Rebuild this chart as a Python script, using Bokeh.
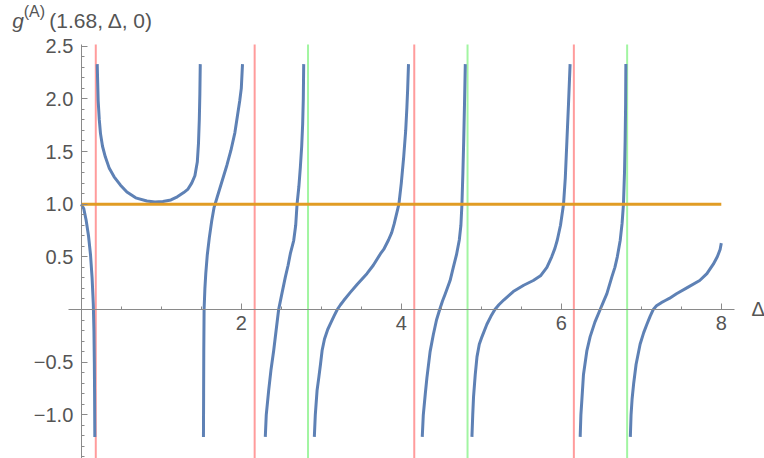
from bokeh.plotting import figure
from bokeh.models import Range1d, FixedTicker, CustomJSTickFormatter, Label
from bokeh.embed import file_html
from bokeh.resources import INLINE

# ---- data (Delta, g) ----
b1_d = [0.0, 0.03, 0.06, 0.09, 0.115, 0.135, 0.15, 0.158, 0.163, 0.166, 0.169]
b1_g = [1.00, 0.96, 0.85, 0.70, 0.52, 0.30, 0.05, -0.20, -0.50, -0.80, -1.21]

b2_d = [0.199, 0.205, 0.211, 0.225, 0.24, 0.265, 0.30, 0.35, 0.41, 0.49, 0.57, 0.68,
        0.82, 0.92, 1.02, 1.12, 1.20, 1.28, 1.33, 1.38, 1.42, 1.45, 1.465, 1.475,
        1.482, 1.487]
b2_g = [2.33, 2.15, 1.98, 1.80, 1.67, 1.55, 1.45, 1.34, 1.26, 1.18, 1.115, 1.06,
        1.03, 1.02, 1.025, 1.04, 1.07, 1.11, 1.14, 1.20, 1.27, 1.40, 1.58, 1.80,
        2.05, 2.33]

b3_d = [1.527, 1.529, 1.531, 1.535, 1.545, 1.556, 1.575, 1.60, 1.63, 1.66, 1.70,
        1.76, 1.82, 1.87, 1.92, 1.95, 1.98, 2.00, 2.015]
b3_g = [-1.21, -0.80, -0.40, 0.00, 0.20, 0.34, 0.52, 0.68, 0.84, 0.97, 1.07,
        1.22, 1.37, 1.51, 1.68, 1.83, 1.98, 2.10, 2.33]

b4_d = [2.300, 2.312, 2.342, 2.37, 2.405, 2.435, 2.467, 2.51, 2.551, 2.585, 2.613,
        2.655, 2.68, 2.697, 2.72, 2.738, 2.755, 2.767, 2.775, 2.78]
b4_g = [-1.21, -1.00, -0.77, -0.58, -0.39, -0.20, 0.00, 0.16, 0.31, 0.42, 0.53,
        0.655, 0.80, 1.00, 1.17, 1.35, 1.55, 1.76, 2.00, 2.33]

b5_d = [2.913, 2.925, 2.947, 2.97, 2.99, 3.01, 3.04, 3.08, 3.12, 3.16, 3.20, 3.24,
        3.28, 3.36, 3.45, 3.57, 3.65, 3.74, 3.78, 3.84, 3.88, 3.91, 3.97, 4.00, 4.03,
        4.055, 4.07, 4.08, 4.09]
b5_g = [-1.21, -1.00, -0.77, -0.64, -0.52, -0.39, -0.28, -0.19, -0.125, -0.06, 0.00,
        0.045, 0.085, 0.16, 0.24, 0.34, 0.42, 0.53, 0.57, 0.66, 0.73, 0.81, 1.00, 1.20,
        1.45, 1.70, 1.92, 2.10, 2.33]

b6_d = [4.262, 4.275, 4.30, 4.32, 4.36, 4.40, 4.44, 4.48, 4.515, 4.55, 4.61, 4.65,
        4.69, 4.725, 4.745, 4.758, 4.77, 4.78, 4.79, 4.80]
b6_g = [-1.21, -1.00, -0.80, -0.65, -0.40, -0.24, -0.10, 0.00, 0.08, 0.15, 0.275,
        0.40, 0.52, 0.66, 0.80, 1.00, 1.30, 1.60, 1.95, 2.33]

b7_d = [4.883, 4.893, 4.903, 4.924, 4.946, 4.975, 5.008, 5.07, 5.12, 5.17, 5.22,
        5.28, 5.40, 5.53, 5.65, 5.74, 5.82, 5.88, 5.92, 5.95, 5.99, 6.028, 6.05,
        6.07, 6.09, 6.11]
b7_g = [-1.21, -1.00, -0.83, -0.62, -0.45, -0.33, -0.26, -0.14, -0.065, 0.00, 0.045,
        0.09, 0.17, 0.23, 0.275, 0.32, 0.40, 0.50, 0.58, 0.66, 0.80, 1.00, 1.25,
        1.60, 1.95, 2.33]

b8_d = [6.236, 6.245, 6.257, 6.277, 6.32, 6.36, 6.42, 6.486, 6.53, 6.57, 6.632,
        6.67, 6.70, 6.736, 6.76, 6.777, 6.79, 6.798, 6.804, 6.807]
b8_g = [-1.21, -1.00, -0.86, -0.62, -0.39, -0.26, -0.12, 0.00, 0.08, 0.15, 0.31,
        0.40, 0.50, 0.655, 0.82, 1.00, 1.30, 1.60, 1.95, 2.33]

b9_d = [6.863, 6.872, 6.885, 6.905, 6.935, 6.985, 7.03, 7.07, 7.11, 7.15, 7.19,
        7.25, 7.30, 7.35, 7.44, 7.58, 7.73, 7.82, 7.90, 7.95, 7.985, 8.0]
b9_g = [-1.21, -1.00, -0.85, -0.70, -0.52, -0.33, -0.22, -0.14, -0.065, 0.00, 0.035,
        0.065, 0.085, 0.105, 0.15, 0.21, 0.275, 0.34, 0.43, 0.50, 0.57, 0.63]

branches_d = [b1_d, b2_d, b3_d, b4_d, b5_d, b6_d, b7_d, b8_d, b9_d]
branches_g = [b1_g, b2_g, b3_g, b4_g, b5_g, b6_g, b7_g, b8_g, b9_g]

ref_d = [0.0, 8.0]
ref_g = [1.0, 1.0]

red_d = [0.181, 2.167, 4.162, 6.157]
green_d = [2.834, 4.828, 6.823]

x_major = [2, 4, 6, 8]
x_minor = [0.5, 1.0, 1.5, 2.0, 2.5, 3.0, 3.5, 4.0, 4.5, 5.0, 5.5, 6.0, 6.5, 7.0, 7.5, 8.0]
y_major = [-1.0, -0.5, 0.5, 1.0, 1.5, 2.0, 2.5]
y_minor = [round(-1.4 + 0.1 * k, 1) for k in range(40)]

# plot region (axes extent) and visible canvas range
X_LO, X_HI = -0.16, 8.16
Y_LO, Y_HI = -1.415, 2.517
VIEW_X = (-1.01, 8.54)
VIEW_Y = (-1.415, 2.934)

BLUE = "#5E81B5"
ORANGE = "#E19C24"
RED = "#FF9C9C"
GREEN = "#A2F5A2"
TEXT = "#555555"
AXIS = "#8a8a8a"
FONT = "Liberation Sans"

p = figure(width=764, height=458,
           x_range=Range1d(*VIEW_X), y_range=Range1d(*VIEW_Y),
           output_backend="svg", toolbar_location=None,
           min_border_left=0, min_border_right=0, min_border_top=0, min_border_bottom=0)
p.outline_line_color = None
p.xgrid.visible = False
p.ygrid.visible = False
p.background_fill_color = "white"
p.border_fill_color = "white"

p.segment(x0=red_d, y0=[Y_LO] * len(red_d), x1=red_d, y1=[Y_HI] * len(red_d),
          line_color=RED, line_width=2)
p.segment(x0=green_d, y0=[Y_LO] * len(green_d), x1=green_d, y1=[Y_HI] * len(green_d),
          line_color=GREEN, line_width=2)

for bd, bg in zip(branches_d, branches_g):
    p.line(bd, bg, line_color=BLUE, line_width=3, line_join="round")

p.line(ref_d, ref_g, line_color=ORANGE, line_width=3)

# axes through the origin
for ax in (p.xaxis[0], p.yaxis[0]):
    ax.fixed_location = 0
    ax.axis_line_color = AXIS
    ax.major_tick_line_color = AXIS
    ax.minor_tick_line_color = AXIS
    ax.major_tick_in = 6
    ax.major_tick_out = 0
    ax.minor_tick_in = 3
    ax.minor_tick_out = 0
    ax.major_label_text_color = TEXT
    ax.major_label_text_font = FONT
    ax.major_label_text_font_size = "20px"

p.xaxis[0].bounds = (X_LO, X_HI)
p.yaxis[0].bounds = (Y_LO, Y_HI)
p.xaxis[0].ticker = FixedTicker(ticks=x_major, minor_ticks=x_minor)
p.yaxis[0].ticker = FixedTicker(ticks=y_major, minor_ticks=y_minor)
p.xaxis[0].formatter = CustomJSTickFormatter(code="return tick.toFixed(0);")
p.yaxis[0].formatter = CustomJSTickFormatter(code="return tick.toFixed(1).replace('-', '\u2212');")
p.xaxis[0].major_label_standoff = 7
p.yaxis[0].major_label_standoff = 8

# axis labels
p.add_layout(Label(x=8.3775, y=0.003, text="\u0394", text_font=FONT, text_font_size="20px",
                   text_color=TEXT, text_baseline="alphabetic"))
p.add_layout(Label(x=-0.864, y=2.744, text="g", text_font=FONT, text_font_size="21px",
                   text_font_style="italic", text_color=TEXT, text_baseline="alphabetic"))
p.add_layout(Label(x=-0.72, y=2.83, text="(A)", text_font=FONT, text_font_size="16px",
                   text_color=TEXT, text_baseline="alphabetic"))
p.add_layout(Label(x=-0.40, y=2.742, text="(1.68, \u0394, 0)", text_font=FONT,
                   text_font_size="21px", text_color=TEXT, text_baseline="alphabetic"))

open("out.html", "w").write(file_html(p, INLINE))
